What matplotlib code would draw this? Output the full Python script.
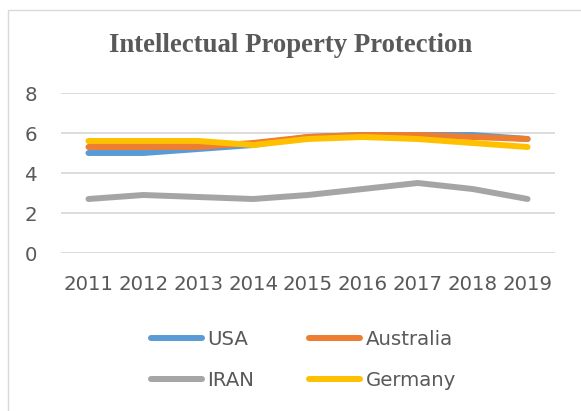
import matplotlib
matplotlib.use('Agg')
import matplotlib.pyplot as plt
from matplotlib.patches import Rectangle

years = ['2011', '2012', '2013', '2014', '2015', '2016', '2017', '2018', '2019']
usa = [5.0, 5.0, 5.2, 5.4, 5.8, 5.9, 5.9, 5.9, 5.7]
australia = [5.3, 5.3, 5.3, 5.5, 5.8, 5.9, 5.9, 5.8, 5.7]
iran = [2.7, 2.9, 2.8, 2.7, 2.9, 3.2, 3.5, 3.2, 2.7]
germany = [5.6, 5.6, 5.6, 5.4, 5.7, 5.8, 5.7, 5.5, 5.3]

txt = '#595959'
grid = '#d9d9d9'

fig = plt.figure(figsize=(5.81, 4.11), dpi=100)
# chart frame (only left/top edges visible in the crop)
fig.patches.append(Rectangle((8 / 581, -0.1), 1.2, 1 - 10 / 411 + 0.1,
                             transform=fig.transFigure, fill=False,
                             edgecolor=grid, linewidth=1))

ax = fig.add_axes([61 / 581, 1 - 253 / 411, 494 / 581, 160 / 411])
x = range(len(years))
lw = 4.3
l_usa, = ax.plot(x, usa, color='#5b9bd5', lw=lw, solid_capstyle='round', solid_joinstyle='round')
l_aus, = ax.plot(x, australia, color='#ed7d31', lw=lw, solid_capstyle='round', solid_joinstyle='round')
l_iran, = ax.plot(x, iran, color='#a5a5a5', lw=lw, solid_capstyle='round', solid_joinstyle='round')
l_ger, = ax.plot(x, germany, color='#ffc000', lw=lw, solid_capstyle='round', solid_joinstyle='round')

ax.set_xlim(-0.5, len(years) - 0.5)
ax.set_ylim(0, 8)
ax.set_yticks([0, 2, 4, 6, 8])
ax.set_xticks(list(x))
ax.set_xticklabels(years)
ax.yaxis.grid(True, color=grid, lw=1.3)
ax.set_axisbelow(True)
for s in ax.spines.values():
    s.set_visible(False)
ax.tick_params(axis='both', length=0, colors=txt, labelsize=14.2)
ax.tick_params(axis='y', pad=17)
ax.tick_params(axis='x', pad=16)

fig.text(0.5, 1 - 46 / 411, 'Intellectual Property Protection', ha='center', va='center',
         family='Liberation Serif', weight='bold', fontsize=19.3, color=txt)

leg = fig.legend([l_usa, l_iran, l_aus, l_ger], ['USA', 'IRAN', 'Australia', 'Germany'],
                 ncol=2, loc='center', bbox_to_anchor=(0.522, 1 - 360 / 411),
                 frameon=False, fontsize=14.2, handlelength=2.6, handletextpad=0.25,
                 columnspacing=2.8, labelspacing=1.15)
for t in leg.get_texts():
    t.set_color(txt)

plt.savefig('out.png', dpi=100)
